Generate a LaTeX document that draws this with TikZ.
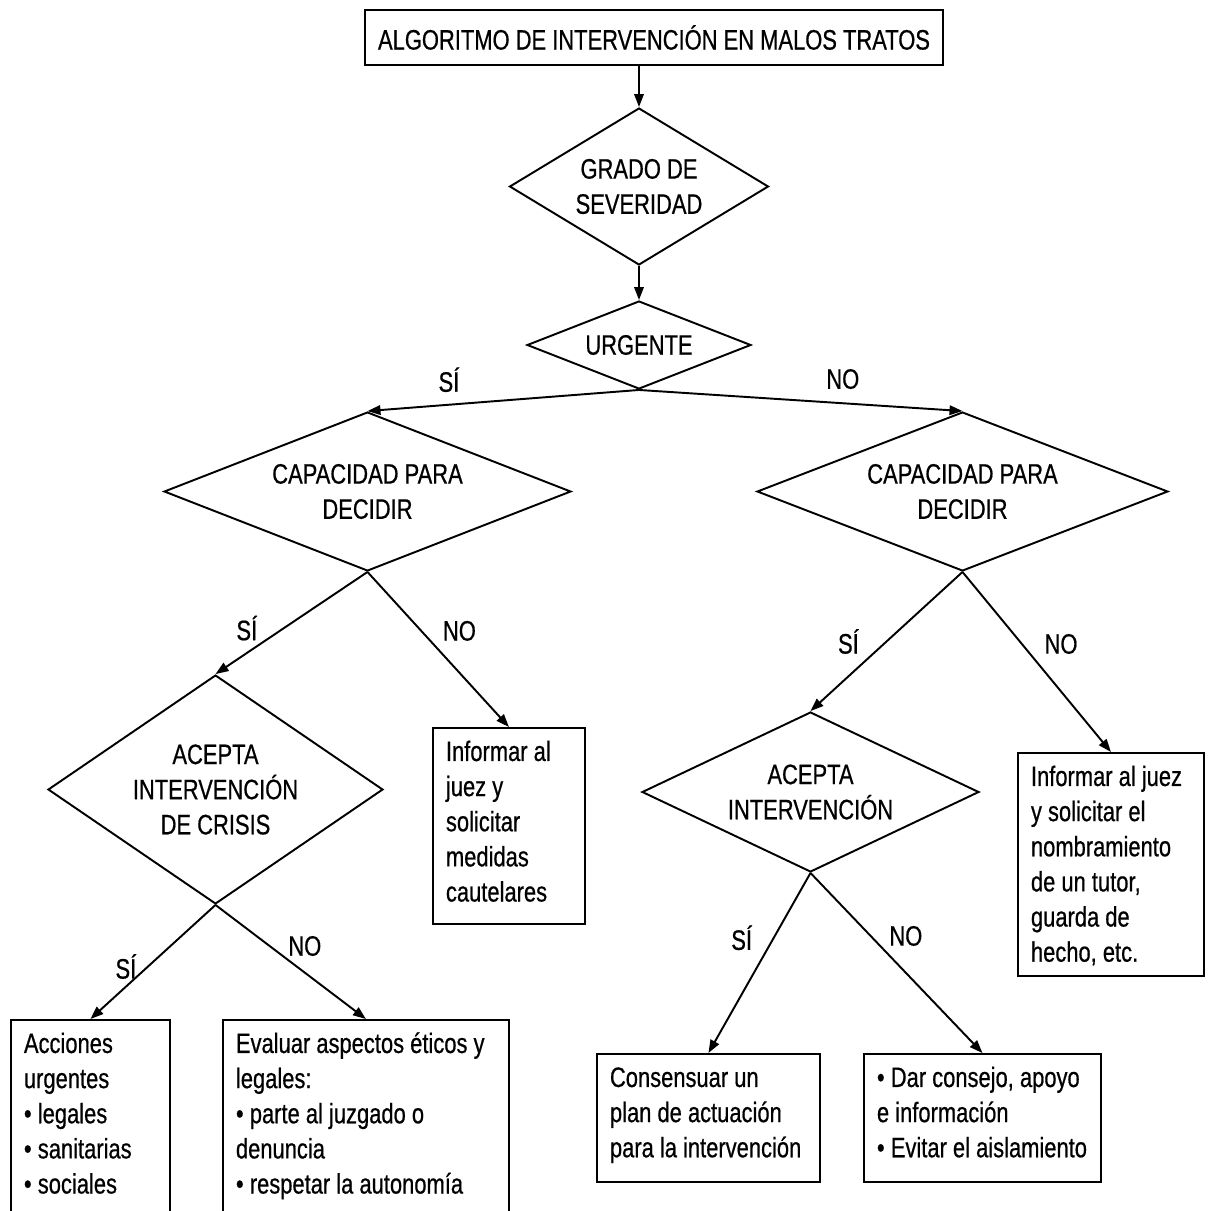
\documentclass[tikz,border=0pt]{standalone}
\usepackage{fontspec}
\setmainfont{Liberation Sans}[FakeStretch=0.78, FakeBold=0.6]
\usetikzlibrary{arrows.meta, shapes.geometric}
\hyphenpenalty=10000
\exhyphenpenalty=10000
\newcommand{\itemdot}{•\hspace{0.22em}}

\tikzset{
  decision/.style={diamond, draw, line width=1.1pt, inner sep=0pt, align=flush center},
  textbox/.style={draw, line width=1.1pt, anchor=north west, align=flush left,
                  inner xsep=0.26cm, inner ysep=0.24cm, text height=0.42cm},
  flow/.style={line width=1.1pt, -{Triangle[length=0.26cm, width=0.19cm]}},
  answer/.style={inner sep=1pt}
}

\begin{document}
\begin{tikzpicture}[x=0.02cm, y=-0.02cm, font=\fontsize{16}{20}\selectfont]
  \useasboundingbox (0,0) rectangle (1209,1211);
  % title and first questions
  \node[draw, line width=1.1pt, minimum width=11.56cm, minimum height=1.1cm] (title) at (654,37.5)
    {ALGORITMO DE INTERVENCIÓN EN MALOS TRATOS};
  \node[decision, shape aspect=1.65, minimum width=5.18cm, minimum height=3.14cm] (grado) at (639,186.5)
    {GRADO DE\\SEVERIDAD};
  \node[decision, shape aspect=2.55, minimum width=4.48cm, minimum height=1.76cm] (urgente) at (639,345)
    {URGENTE};
  % capacity
  \node[decision, shape aspect=2.56, minimum width=8.14cm, minimum height=3.18cm] (capSi) at (367.5,491.5)
    {CAPACIDAD PARA\\DECIDIR};
  \node[decision, shape aspect=2.58, minimum width=8.22cm, minimum height=3.18cm] (capNo) at (962.5,491.5)
    {CAPACIDAD PARA\\DECIDIR};
  % acceptance
  \node[decision, shape aspect=1.46, minimum width=6.7cm, minimum height=4.58cm] (crisis) at (215.5,789.5)
    {ACEPTA\\INTERVENCIÓN\\DE CRISIS};
  \node[decision, shape aspect=2.1, minimum width=6.74cm, minimum height=3.2cm] (acepta) at (810.5,792)
    {ACEPTA\\INTERVENCIÓN};
  % actions
  \node[textbox, text width=2.52cm, text depth=3.02cm] (juezA) at (432,727)
    {Informar al\\juez y\\solicitar\\medidas\\cautelares};
  \node[textbox, text width=3.2cm, text depth=3.56cm] (tutor) at (1017,752)
    {Informar al juez\\y solicitar el\\nombramiento\\de un tutor,\\guarda de\\hecho, etc.};
  \node[textbox, text width=3.94cm, text depth=1.66cm] (consenso) at (596,1053)
    {Consensuar un\\plan de actuación\\para la intervención};
  \node[textbox, text width=4.22cm, text depth=1.66cm] (consejo) at (863,1053)
    {\itemdot Dar consejo, apoyo\\e información\\\itemdot Evitar el aislamiento};
  \node[textbox, text width=2.66cm, text depth=3.4cm] (acciones) at (10,1019)
    {Acciones\\urgentes\\\itemdot legales\\\itemdot sanitarias\\\itemdot sociales};
  \node[textbox, text width=5.2cm, text depth=3.4cm] (evaluar) at (222,1019)
    {Evaluar aspectos éticos y\\legales:\\\itemdot parte al juzgado o\\denuncia\\\itemdot respetar la autonomía};

  \draw[flow] (title.south -| grado.north) -- (grado.north);
  \draw[flow] (grado.south) -- (urgente.north);
  \draw[flow] (urgente.south) -- node[answer, pos=0.7, above=0.2cm] {SÍ} (capSi.north);
  \draw[flow] (urgente.south) -- node[answer, pos=0.63, above=0.23cm] {NO} (capNo.north);
  \draw[flow] (capSi.south) -- node[answer, pos=0.55, left=0.48cm] {SÍ} (crisis.north);
  \draw[flow] (capSi.south) -- node[answer, pos=0.38, right=0.38cm] {NO} (juezA.north);
  \draw[flow] (capNo.south) -- node[answer, pos=0.5, left=0.5cm] {SÍ} (acepta.north);
  \draw[flow] (capNo.south) -- node[answer, pos=0.4, right=0.4cm] {NO} (tutor.north);
  \draw[flow] (crisis.south) -- node[answer, pos=0.54, left=0.18cm] {SÍ} (acciones.north);
  \draw[flow] (crisis.south) -- node[answer, pos=0.36, right=0.32cm] {NO} (evaluar.north);
  \draw[flow] (acepta.south) -- node[answer, pos=0.36, left=0.38cm] {SÍ} (consenso.north);
  \draw[flow] (acepta.south) -- node[answer, pos=0.35, right=0.32cm] {NO} (consejo.north);
\end{tikzpicture}
\end{document}
